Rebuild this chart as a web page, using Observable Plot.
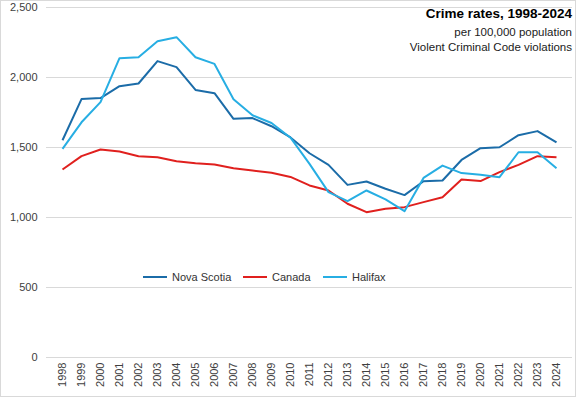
<!DOCTYPE html>
<html>
<head>
<meta charset="utf-8">
<script src="https://cdn.jsdelivr.net/npm/d3@7"></script>
<script src="https://cdn.jsdelivr.net/npm/@observablehq/plot@0.6"></script>
<style>
  html, body { margin: 0; padding: 0; background: #fff; }
  #wrap { position: relative; width: 576px; height: 397px; overflow: hidden; font-family: "Liberation Sans", Arial, sans-serif; }
  #border { position: absolute; left: 0; top: 0; width: 576px; height: 397px; box-sizing: border-box; border: 1px solid #d9d9d9; pointer-events: none; }
  .ttl { position: absolute; right: 4px; text-align: right; white-space: nowrap; color: #000; line-height: 1.15; }
  .leg { position: absolute; top: 270px; height: 14px; display: flex; align-items: center; font-size: 11px; color: #333; white-space: nowrap; }
  .sw { display: inline-block; width: 24px; height: 2px; margin-right: 5px; }
</style>
</head>
<body>
<div id="wrap"></div>
<script>
const years = ["1998","1999","2000","2001","2002","2003","2004","2005","2006","2007","2008","2009","2010","2011","2012","2013","2014","2015","2016","2017","2018","2019","2020","2021","2022","2023","2024"];
const novaScotia = [1552,1846,1853,1938,1957,2117,2074,1911,1888,1705,1710,1652,1572,1459,1376,1233,1257,1205,1160,1259,1264,1411,1495,1502,1588,1617,1536];
const canada =     [1343,1438,1486,1471,1438,1431,1402,1388,1379,1352,1336,1319,1290,1229,1193,1098,1038,1062,1074,1110,1145,1271,1260,1324,1376,1438,1431];
const halifax =    [1490,1680,1824,2138,2145,2259,2288,2145,2097,1845,1730,1675,1570,1383,1181,1117,1193,1129,1045,1283,1371,1317,1305,1288,1466,1466,1352];
const yTicks = [0, 500, 1000, 1500, 2000, 2500];
const seriesNames = ["Nova Scotia", "Canada", "Halifax"];
const seriesColors = ["#1b6ca8", "#e0201e", "#27aee3"];

const seriesValues = [novaScotia, canada, halifax];
const rows = [];
seriesNames.forEach((name, s) => {
  years.forEach((yr, i) => rows.push({series: name, year: yr, value: seriesValues[s][i]}));
});

const chart = Plot.plot({
  width: 576,
  height: 397,
  marginLeft: 46,
  marginRight: 4,
  marginTop: 7,
  marginBottom: 40,
  style: { fontFamily: "Liberation Sans, Arial, sans-serif", fontSize: "11px", color: "#404040", background: "transparent" },
  x: { type: "point", domain: years, padding: 0.5, label: null },
  y: { domain: [0, 2500], label: null },
  color: { domain: seriesNames, range: seriesColors },
  marks: [
    Plot.gridY(yTicks, { stroke: "#d9d9d9", strokeOpacity: 1, strokeWidth: 1 }),
    Plot.axisY(yTicks, { tickSize: 0, tickPadding: 9, tickFormat: d3.format(","), fill: "#404040", fontSize: 11 }),
    Plot.axisX({ tickSize: 0, tickRotate: -90, tickPadding: 5, fill: "#404040", fontSize: 11 }),
    Plot.line(rows, { x: "year", y: "value", z: "series", stroke: "series", strokeWidth: 2, strokeLinejoin: "round", strokeLinecap: "butt" })
  ]
});

const wrap = document.getElementById("wrap");
wrap.appendChild(chart);

const titles = [
  { text: "Crime rates, 1998-2024", top: 6, size: 13.5, weight: "bold" },
  { text: "per 100,000 population", top: 26, size: 11.5, weight: "normal" },
  { text: "Violent Criminal Code violations", top: 41, size: 11.5, weight: "normal" }
];
titles.forEach(t => {
  const d = document.createElement("div");
  d.className = "ttl";
  d.textContent = t.text;
  d.style.top = t.top + "px";
  d.style.fontSize = t.size + "px";
  d.style.fontWeight = t.weight;
  d.style.color = t.weight === "bold" ? "#000" : "#1a1a1a";
  wrap.appendChild(d);
});

const legLefts = [143, 243, 323];
seriesNames.forEach((name, i) => {
  const d = document.createElement("div");
  d.className = "leg";
  d.style.left = legLefts[i] + "px";
  const sw = document.createElement("span");
  sw.className = "sw";
  sw.style.background = seriesColors[i];
  d.appendChild(sw);
  d.appendChild(document.createTextNode(name));
  wrap.appendChild(d);
});

const b = document.createElement("div");
b.id = "border";
wrap.appendChild(b);
</script>
</body>
</html>
